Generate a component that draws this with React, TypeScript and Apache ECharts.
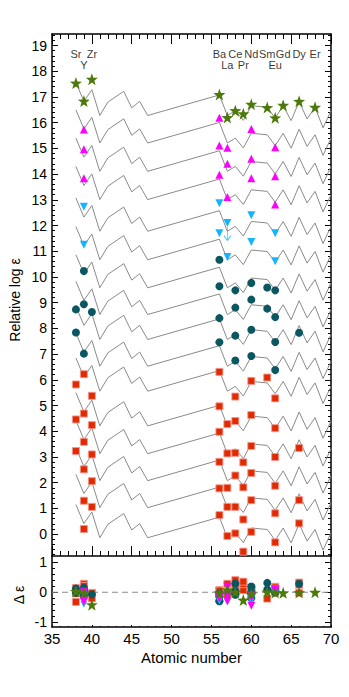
import React, { useEffect, useRef } from "react";
import * as echarts from "echarts";

// ---- solar r-process pattern (relative to Ba) and line offsets (Ba value of each line)
const patternZ = [38, 39, 40, 41, 42, 44, 45, 46, 47, 56, 57, 58, 59, 60, 62, 63, 64, 65, 66, 67, 68, 69, 70];
const patternRelBa = [0.49, -0.25, 0.2, -0.8, -0.28, 0.14, -0.5, -0.25, -0.8, 0, -0.8, -0.61, -0.99, -0.42, -0.48, -0.9, -0.42, -1.0, -0.26, -0.93, -0.48, -1.28, -0.61];
const lineOffsets = [17.08, 16.01, 14.91, 13.81, 12.58, 11.47, 10.38, 9.34, 8.37, 7.33, 6.36, 5.01, 3.93, 2.88, 1.83, 0.66];

// ---- element labels
const labelRow1 = ["Sr", "Zr", "Ba", "Ce", "Nd", "Sm", "Gd", "Dy", "Er"];
const labelRow1Z = [38, 40, 56, 58, 60, 62, 64, 66, 68];
const labelRow2 = ["Y", "La", "Pr", "Eu"];
const labelRow2Z = [39, 57, 59, 63];

// ---- observed abundances: [Z, log eps, line index]
const greenStars = [
  [38, 17.54, 0], [39, 16.84, 0], [40, 17.69, 0], [56, 17.1, 0], [57, 16.2, 0], [58, 16.47, 0], [59, 16.35, 0],
  [60, 16.72, 0], [62, 16.59, 0], [63, 16.19, 0], [64, 16.68, 0], [66, 16.83, 0], [68, 16.6, 0],
];
const magentaTriangles = [
  [39, 15.74, 1], [56, 16.19, 1], [57, 15.03, 1], [60, 15.76, 1], [63, 15.05, 1],
  [39, 14.97, 2], [56, 15.11, 2], [57, 14.4, 2], [60, 14.6, 2], [63, 13.92, 2],
  [39, 13.84, 3], [56, 13.98, 3], [57, 13.11, 3], [60, 13.84, 3], [63, 12.82, 3],
];
const cyanTriangles = [
  [39, 12.73, 4], [56, 12.87, 4], [57, 12.1, 4], [60, 12.4, 4], [63, 11.7, 4],
  [39, 11.25, 5], [56, 11.7, 5], [57, 10.78, 5], [60, 11.36, 5], [63, 10.61, 5],
];
const cyanUpperLimits = [[57, 12.1, 4]];
const tealCircles = [
  [39, 10.23, 6], [56, 10.67, 6], [58, 9.48, 6], [60, 9.77, 6], [62, 9.59, 6], [63, 9.48, 6],
  [39, 8.94, 7], [56, 9.64, 7], [58, 8.81, 7], [60, 9.12, 7], [62, 8.77, 7], [63, 8.44, 7],
  [38, 8.74, 8], [40, 8.64, 8], [56, 8.4, 8], [58, 7.72, 8], [60, 7.95, 8], [63, 7.47, 8], [66, 7.83, 8],
  [38, 7.84, 9], [39, 7.02, 9], [56, 7.46, 9], [58, 6.75, 9], [60, 6.93, 9], [63, 6.38, 9],
];
const redSquares = [
  [39, 6.22, 10], [56, 6.31, 10], [58, 5.35, 10], [60, 5.96, 10], [62, 6.09, 10], [63, 5.28, 10],
  [38, 5.82, 11], [39, 4.69, 11], [40, 5.38, 11], [56, 4.97, 11], [57, 4.28, 11], [58, 4.4, 11], [60, 4.63, 11], [63, 4.12, 11],
  [38, 4.46, 12], [39, 3.59, 12], [40, 4.24, 12], [56, 3.98, 12], [57, 3.14, 12], [58, 3.16, 12], [59, 2.79, 12], [60, 3.43, 12], [63, 3.0, 12], [66, 3.35, 12],
  [38, 3.23, 13], [39, 2.52, 13], [40, 3.1, 13], [56, 2.81, 13], [57, 1.8, 13], [58, 2.28, 13], [59, 1.82, 13], [60, 2.38, 13], [63, 1.88, 13],
  [39, 1.3, 14], [40, 2.06, 14], [56, 1.78, 14], [57, 1.06, 14], [58, 1.06, 14], [59, 0.57, 14], [60, 1.32, 14], [63, 0.81, 14], [66, 1.32, 14],
  [39, 0.2, 15], [40, 1.06, 15], [56, 0.74, 15], [57, -0.07, 15], [58, 0.03, 15], [59, -0.68, 15], [60, 0.09, 15], [63, -0.32, 15], [66, 0.42, 15],
];

const topMajorTicks = Array.from({ length: 20 }, (_, i) => i);
const topMinorTicks: number[] = [];
for (let k = -4; k <= 97; k++) { if (k % 5 !== 0) topMinorTicks.push(Math.round(k * 20) / 100); }
const botMajorTicks = [-1, 0, 1];
const botMinorTicks = [-0.8, -0.6, -0.4, -0.2, 0.2, 0.4, 0.6, 0.8];

const GREEN = "#4b7a0a";
const MAGENTA = "#ff00ff";
const CYAN = "#14b4ff";
const TEAL = "#0a5661";
const RED = "#e02a00";
const FONT = "Liberation Sans, Arial, Helvetica, sans-serif";
const STAR = "path://M0,-10 L2.35,-3.24 L9.51,-3.09 L3.8,1.24 L5.88,8.09 L0,4 L-5.88,8.09 L-3.8,1.24 L-9.51,-3.09 L-2.35,-3.24 Z";
const ARROW = "path://M5,0 L5,12 M1,7.5 L5,12 L9,7.5";

function lineValue(z: number, li: number) {
  const idx = patternZ.indexOf(z);
  return lineOffsets[li] + patternRelBa[idx];
}
const residuals = (pts: number[][]) => pts.map((p) => [p[0], +(lineValue(p[0], p[2]) - p[1]).toFixed(3)]);

export default function App() {
  const ref = useRef<HTMLDivElement>(null);
  useEffect(() => {
    if (!ref.current) return;
    const chart = echarts.init(ref.current, undefined, { renderer: "svg" });
    const blackLine = { color: "#000", width: 1 };
    const xBase = (grid: number, position: string, tickLen: number, minorLen: number, labels: boolean) => ({
      type: "value", gridIndex: grid, position, min: 35, max: 70, interval: 5,
      axisLine: { show: true, onZero: false, lineStyle: { color: "#000", width: 1.5 } },
      axisTick: { show: true, inside: true, length: tickLen, lineStyle: blackLine },
      minorTick: { show: true, splitNumber: 5, length: minorLen, lineStyle: blackLine },
      axisLabel: { show: labels, color: "#000", fontSize: 15, fontFamily: FONT, margin: 4, lineHeight: 15 },
      splitLine: { show: false },
    });
    const yBase = (grid: number, position: string, min: number, max: number, ticks: number[], len: number, labels: boolean, line: boolean) => ({
      type: "value", gridIndex: grid, position, min, max,
      axisLine: { show: line, onZero: false, lineStyle: { color: "#000", width: 1.5 } },
      axisTick: { show: true, inside: true, length: len, customValues: ticks, lineStyle: blackLine },
      axisLabel: { show: labels, customValues: ticks, color: "#000", fontSize: 14, fontFamily: FONT, margin: 5 },
      splitLine: { show: false },
    });

    const series: any[] = [];
    lineOffsets.forEach((off, li) => {
      series.push({
        type: "line", xAxisIndex: 0, yAxisIndex: 0, showSymbol: false, symbol: "none", silent: true, z: 2,
        lineStyle: { color: "#8a8a8a", width: 1 },
        data: patternZ.map((z, i) => [z, +(off + patternRelBa[i]).toFixed(3)]),
      });
    });
    const groups = [
      { data: redSquares, symbol: "rect", size: 7, color: RED, rot: 0, border: "rgba(245,150,140,0.9)" },
      { data: tealCircles, symbol: "circle", size: 8, color: TEAL, rot: 0, border: null },
      { data: cyanTriangles, symbol: "triangle", size: 8, color: CYAN, rot: 180, border: null },
      { data: magentaTriangles, symbol: "triangle", size: 8, color: MAGENTA, rot: 0, border: null },
      { data: greenStars, symbol: STAR, size: 12, color: GREEN, rot: 0, border: null },
    ];
    groups.forEach((g) => {
      series.push({
        type: "scatter", xAxisIndex: 0, yAxisIndex: 0, symbol: g.symbol, symbolSize: g.size, symbolRotate: g.rot, z: 4,
        itemStyle: { color: g.color, opacity: 1, borderColor: g.border || g.color, borderWidth: g.border ? 1 : 0 },
        data: g.data.map((p) => [p[0], p[1]]),
      });
    });
    series.push({
      type: "scatter", xAxisIndex: 0, yAxisIndex: 0, symbol: ARROW, symbolSize: [7, 13], symbolOffset: [0, 11], z: 3,
      itemStyle: { color: "none", borderColor: CYAN, borderWidth: 1 },
      data: cyanUpperLimits.map((p) => [p[0], p[1]]),
    });
    // element labels
    const labelSeries = (names: string[], zs: number[], y: number) => ({
      type: "scatter", xAxisIndex: 0, yAxisIndex: 0, symbolSize: 1, silent: true, z: 5,
      itemStyle: { color: "rgba(0,0,0,0)" },
      label: { show: true, position: "inside", formatter: "{b}", color: "#000", fontSize: 11, fontFamily: FONT },
      data: names.map((n, i) => ({ name: n, value: [zs[i], y] })),
    });
    series.push(labelSeries(labelRow1, labelRow1Z, 18.69));
    series.push(labelSeries(labelRow2, labelRow2Z, 18.26));

    // residual panel
    series.push({
      type: "line", xAxisIndex: 2, yAxisIndex: 4, showSymbol: false, symbol: "none", silent: true, z: 2,
      lineStyle: { color: "#8a8a8a", width: 1, type: [6, 4] },
      data: [[35, 0], [70, 0]],
    });
    const botGroups = [
      { data: redSquares, symbol: "rect", size: 7, color: RED, rot: 0, border: "rgba(245,150,140,0.9)" },
      { data: tealCircles, symbol: "circle", size: 8, color: TEAL, rot: 0, border: null },
      { data: cyanTriangles, symbol: "triangle", size: 7, color: CYAN, rot: 180, border: null },
      { data: magentaTriangles, symbol: "triangle", size: 8, color: MAGENTA, rot: 180, border: null },
      { data: greenStars, symbol: STAR, size: 12, color: GREEN, rot: 0, border: null },
    ];
    botGroups.forEach((g) => {
      series.push({
        type: "scatter", xAxisIndex: 2, yAxisIndex: 4, symbol: g.symbol, symbolSize: g.size, symbolRotate: g.rot, z: 4,
        itemStyle: { color: g.color, opacity: 1, borderColor: g.border || g.color, borderWidth: g.border ? 1 : 0 },
        data: residuals(g.data),
      });
    });

    chart.setOption({
      animation: false,
      backgroundColor: "#fff",
      textStyle: { fontFamily: FONT },
      grid: [
        { left: 52, top: 34, width: 279, height: 522 },
        { left: 52, top: 556, width: 279, height: 71 },
      ],
      xAxis: [
        xBase(0, "bottom", 10, 5, false),
        xBase(0, "top", 10, 5, false),
        xBase(1, "bottom", 2, 1, true),
      ],
      yAxis: [
        yBase(0, "left", -0.85, 19.45, topMajorTicks, 6, true, true),
        yBase(0, "left", -0.85, 19.45, topMinorTicks, 3, false, false),
        yBase(0, "right", -0.85, 19.45, topMajorTicks, 6, false, true),
        yBase(0, "right", -0.85, 19.45, topMinorTicks, 3, false, false),
        yBase(1, "left", -1.15, 1.2, botMajorTicks, 6, true, true),
        yBase(1, "left", -1.15, 1.2, botMinorTicks, 3, false, false),
        yBase(1, "right", -1.15, 1.2, botMajorTicks, 6, false, true),
        yBase(1, "right", -1.15, 1.2, botMinorTicks, 3, false, false),
      ],
      graphic: [
        { type: "text", x: 15, y: 300, rotation: Math.PI / 2, style: { text: "Relative log \u03b5", fontSize: 14, fontFamily: FONT, fill: "#000", textAlign: "center", textVerticalAlign: "middle" } },
        { type: "text", x: 19, y: 595, rotation: Math.PI / 2, style: { text: "\u0394 \u03b5", fontSize: 14, fontFamily: FONT, fill: "#000", textAlign: "center", textVerticalAlign: "middle" } },
        { type: "text", x: 191.5, y: 657, style: { text: "Atomic number", fontSize: 15, fontFamily: FONT, fill: "#000", textAlign: "center", textVerticalAlign: "middle" } },
      ],
      series,
    });
    return () => chart.dispose();
  }, []);
  return <div ref={ref} style={{ position: "fixed", left: 0, top: 0, width: 349, height: 697 }} />;
}
